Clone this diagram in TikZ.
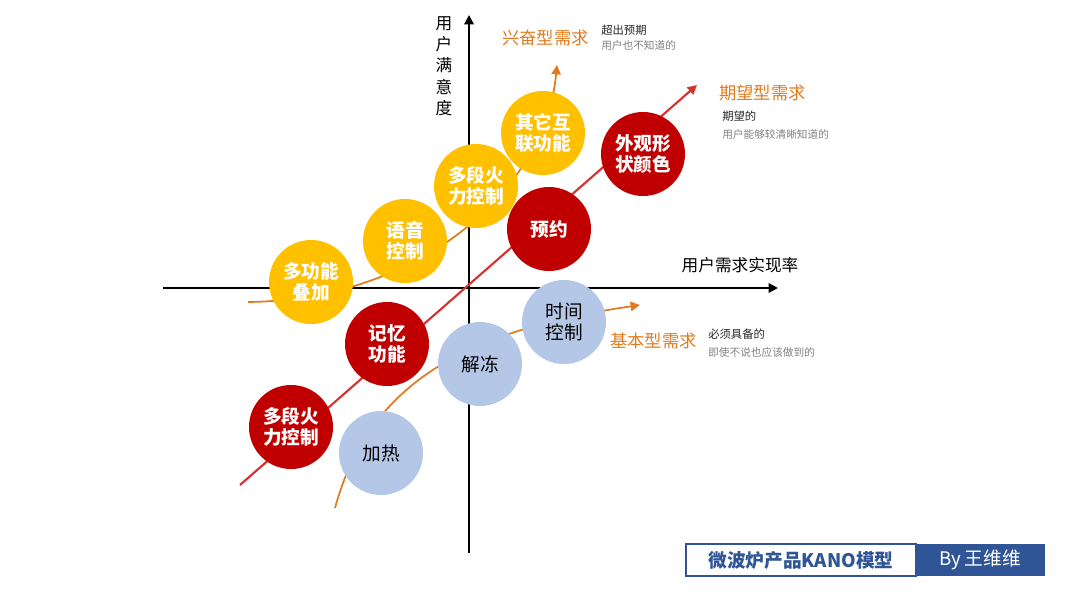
\documentclass[tikz,border=0pt]{standalone}
\usepackage{fontspec}
\setmainfont{Noto Sans CJK SC}
\usetikzlibrary{arrows.meta}
\definecolor{yel}{HTML}{FFC000}
\definecolor{redc}{HTML}{C00000}
\definecolor{blu}{HTML}{B4C7E7}
\definecolor{org}{HTML}{E07B20}
\definecolor{lred}{HTML}{D93030}
\definecolor{navy}{HTML}{2F5597}
\begin{document}
\begin{tikzpicture}[x=0.75pt,y=-0.75pt,
 circ/.style={circle,minimum size=63pt,inner sep=0pt,align=center,font=\fontsize{14}{16}\selectfont\bfseries,text=white},
 yc/.style={circ,fill=yel},
 rc/.style={circ,fill=redc},
 bc/.style={circ,fill=blu,text=black,font=\fontsize{14}{16}\selectfont},
 tit/.style={text=org,font=\fontsize{13}{15}\selectfont,anchor=west,inner sep=0pt},
 sub/.style={text=black!85,font=\fontsize{8.5}{10}\selectfont,anchor=west,inner sep=0pt},
 sub2/.style={text=gray,font=\fontsize{8}{10}\selectfont,anchor=west,inner sep=0pt},
 arr/.style={-{Triangle[length=7pt,width=7pt]},line width=1.3pt}]
\useasboundingbox (0,0) rectangle (1080,609);
% axes
\coordinate (xs) at (163,288); \coordinate (xe) at (778,288);
\coordinate (ys) at (469,553); \coordinate (ye) at (469,15);
\draw[arr,line width=1.5pt,black] (xs) -- (xe);
\draw[arr,line width=1.5pt,black] (ys) -- (ye);
\node[align=center,font=\fontsize{12.5}{16}\selectfont] (yl) at (444,66) {用\\户\\满\\意\\度};
\node[font=\fontsize{12.5}{15}\selectfont] (xl) at (740,265) {用户需求实现率};
% curves
\coordinate (r0) at (240,485); \coordinate (r1) at (697,85);
\draw[arr,lred,line width=1.6pt] (r0) -- (r1);
\coordinate (o0) at (248,302); \coordinate (o1) at (557,65);
\draw[arr,org] (o0) .. controls (420,300) and (545,190) .. (o1);
\coordinate (b0) at (335,508); \coordinate (b1) at (640,305);
\draw[arr,org] (b0) .. controls (370,380) and (470,330) .. (b1);
% circles
\node[yc] (c1) at (311,282) {多功能\\叠加};
\node[yc] (c2) at (405,241) {语音\\控制};
\node[yc] (c3) at (476,186) {多段火\\力控制};
\node[yc] (c4) at (543,133) {其它互\\联功能};
\node[rc] (d1) at (643,154) {外观形\\状颜色};
\node[rc] (d2) at (549,229) {预约};
\node[rc] (d3) at (387,344) {记忆\\功能};
\node[rc] (d4) at (291,427) {多段火\\力控制};
\node[bc] (e1) at (564,322) {时间\\控制};
\node[bc] (e2) at (480,364) {解冻};
\node[bc] (e3) at (381,453) {加热};
% labels
\node[tit] (t1) at (502,38) {兴奋型需求};
\node[sub] (s1) at (601,30) {超出预期};
\node[sub2] (s1b) at (601,45) {用户也不知道的};
\node[tit] (t2) at (719,93) {期望型需求};
\node[sub] (s2) at (722,116) {期望的};
\node[sub2] (s2b) at (722,134) {用户能够较清晰知道的};
\node[tit] (t3) at (610,341) {基本型需求};
\node[sub] (s3) at (708,334) {必须具备的};
\node[sub2] (s3b) at (708,352) {即使不说也应该做到的};
% footer
\draw[navy,line width=0.8pt,fill=white] (686,544) rectangle (916,576);
\fill[navy] (916,544) rectangle (1045,576);
\node[text=navy,font=\fontsize{14}{16}\selectfont\bfseries] (f1) at (801,560) {微波炉产品KANO模型};
\node[text=white,font=\fontsize{14}{16}\selectfont] (f2) at (980,560) {By 王维维};
\end{tikzpicture}
\end{document}
